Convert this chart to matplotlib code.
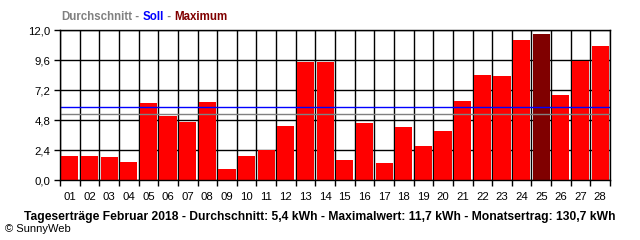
import numpy as np
import matplotlib.pyplot as plt
from matplotlib.ticker import FixedLocator, FuncFormatter

days = [f'{d:02d}' for d in range(1, 29)]
yields_kwh = [1.95, 1.95, 1.84, 1.44, 6.16, 5.12, 4.67, 6.27, 0.88, 1.95,
              2.40, 4.35, 9.47, 9.47, 1.60, 4.56, 1.36, 4.24, 2.72, 3.92,
              6.32, 8.40, 8.32, 11.20, 11.65, 6.80, 9.55, 10.72]
soll_kwh = 5.81
avg_kwh = 5.25
y_ticks = [0.0, 2.4, 4.8, 7.2, 9.6, 12.0]

title_parts = [('Durchschnitt', '#808080'), (' - ', '#808080'),
               ('Soll', '#0000FF'), (' - ', '#808080'), ('Maximum', '#800000')]
footer = ('Tageserträge Februar 2018 - Durchschnitt: 5,4 kWh - '
          'Maximalwert: 11,7 kWh - Monatsertrag: 130,7 kWh')

plt.rcParams['font.family'] = ['Liberation Sans', 'DejaVu Sans']

fig = plt.figure(figsize=(6.4, 2.4), dpi=100)
fig.patch.set_facecolor('white')
ax = fig.add_axes([60 / 640, 60 / 240, 550 / 640, 150 / 240])

x = np.arange(len(days))
vals = np.array(yields_kwh)
imax = int(vals.argmax())
colors = ['#800000' if i == imax else '#FF0000' for i in range(len(vals))]
ax.bar(x, vals, width=0.87, color=colors, zorder=2)

ax.axhline(avg_kwh, color='#808080', linewidth=1.0, zorder=3)
ax.axhline(soll_kwh, color='#0000FF', linewidth=1.0, zorder=3)

ax.set_xlim(-0.5, len(days) - 0.5)
ax.set_ylim(0, 12.0)

ax.set_xticks(x)
ax.set_xticklabels(days)
ax.xaxis.set_minor_locator(FixedLocator(np.arange(-0.5, len(days), 1.0)))
ax.tick_params(axis='x', which='major', length=0, pad=9, labelsize=8.2)
ax.tick_params(axis='x', which='minor', length=4, width=1.0, direction='out')

ax.set_yticks(y_ticks)
ax.yaxis.set_major_formatter(FuncFormatter(lambda v, _: f'{v:.1f}'.replace('.', ',')))
ax.tick_params(axis='y', length=4, width=1.0, direction='out', pad=3, labelsize=8.2)

ax.grid(True, axis='y', which='major', color='black', linewidth=1.0, zorder=1)
ax.grid(True, axis='x', which='minor', color='black', linewidth=1.0, zorder=1)
ax.set_axisbelow(True)

for s in ax.spines.values():
    s.set_color('black')
    s.set_linewidth(1.0)
    s.set_zorder(4)

# coloured legend title at the top
xpos = 61
renderer = fig.canvas.get_renderer()
for text, col in title_parts:
    t = fig.text(xpos / 640, 1 - 17 / 240, text, color=col, fontsize=8.3,
                 fontweight='bold', va='center', ha='left')
    bb = t.get_window_extent(renderer=renderer)
    xpos += bb.width

fig.text(320 / 640, 1 - 217 / 240, footer, fontsize=8.7, fontweight='bold',
         ha='center', va='center', color='black')
fig.text(5 / 640, 1 - 229 / 240, '© SunnyWeb', fontsize=8, ha='left',
         va='center', color='black')

fig.savefig('out.png', dpi=100, facecolor='white')
